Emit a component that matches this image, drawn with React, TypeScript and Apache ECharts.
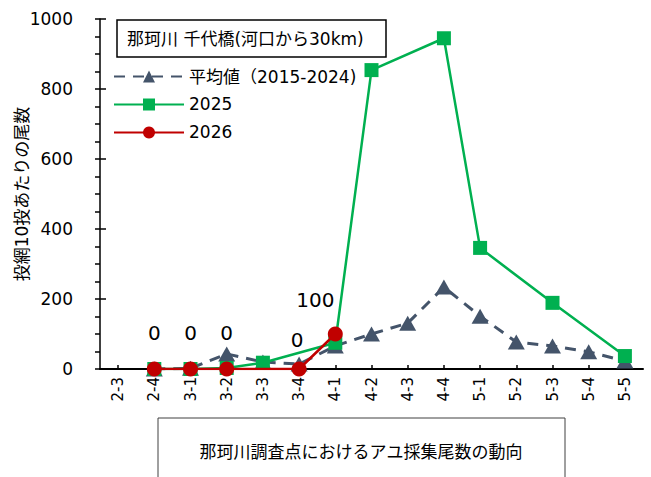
import React, { useEffect, useRef } from "react";
import * as echarts from "echarts";

const categories = ["2-3", "2-4", "3-1", "3-2", "3-3", "3-4", "4-1", "4-2", "4-3", "4-4", "5-1", "5-2", "5-3", "5-4", "5-5"];
const avgValues = [null, 0, 2, 43, 20, 14, 66, 100, 131, 234, 151, 77, 66, 49, 23];
const y2025 = [null, 0, 0, 3, 18, null, 75, 854, null, 945, 346, null, 189, null, 37];
const y2026 = [null, 0, 0, 0, null, 0, 100, null, null, null, null, null, null, null, null];
const labelOffsets2026: Record<number, [number, number]> = {
  1: [0, -14],
  2: [0, -14],
  3: [0, -14],
  5: [-2, -7],
  6: [-20, -12],
};

const seriesNames = ["平均値（2015-2024)", "2025", "2026"];
const titleText = "那珂川 千代橋(河口から30km)";
const yName = "投網10投あたりの尾数";
const captionText = "那珂川調査点におけるアユ採集尾数の動向";

const FONT = "'DejaVu Sans', 'Noto Sans CJK JP', sans-serif";

export default function App() {
  const ref = useRef<HTMLDivElement>(null);
  useEffect(() => {
    if (!ref.current) return;
    const chart = echarts.init(ref.current, undefined, { renderer: "svg" });
    const redData = y2026.map((v, i) => {
      const off = labelOffsets2026[i];
      if (v === null) return null;
      if (off) {
        return {
          value: v,
          label: {
            show: true,
            position: "top",
            offset: off,
            formatter: String(v),
            fontSize: 20,
            color: "#000",
            fontFamily: FONT,
          },
        };
      }
      return v;
    });
    chart.setOption({
      animation: false,
      backgroundColor: "#fff",
      textStyle: { fontFamily: FONT },
      grid: { left: 100, right: 8, top: 19, bottom: 108, containLabel: false, outerBoundsMode: "none" },
      legend: {
        orient: "vertical",
        left: 108,
        top: 63,
        itemWidth: 70,
        itemHeight: 15,
        itemGap: 11,
        textStyle: { fontSize: 17, color: "#000", fontFamily: FONT },
        data: seriesNames,
      },
      xAxis: {
        type: "category",
        data: categories,
        boundaryGap: true,
        axisLine: { lineStyle: { color: "#000", width: 2 } },
        axisTick: { show: true, inside: true, alignWithLabel: true, length: 4, lineStyle: { color: "#000", width: 1.5 } },
        axisLabel: { rotate: 90, fontSize: 15, color: "#000", margin: 8, interval: 0, fontFamily: FONT },
      },
      yAxis: [
        {
          type: "value",
          min: 0,
          max: 1000,
          interval: 200,
          name: yName,
          nameLocation: "middle",
          nameGap: 70,
          nameMoveOverlap: false,
          nameRotate: 90,
          nameTextStyle: { fontSize: 17, color: "#000", fontFamily: FONT },
          axisLine: { show: true, lineStyle: { color: "#000", width: 1.5 } },
          axisTick: { show: true, length: 5, lineStyle: { color: "#000", width: 1.5 } },
          minorTick: { show: true, splitNumber: 4, length: 5, lineStyle: { color: "#000", width: 1.5 } },
          splitLine: { show: false },
          axisLabel: { fontSize: 17, color: "#000", margin: 27, fontFamily: FONT, formatter: (v: number) => String(v) },
        },
        {
          type: "value",
          min: 0,
          max: 1000,
          interval: 200,
          position: "left",
          axisLine: { show: false },
          axisTick: { show: true, inside: true, length: 6, lineStyle: { color: "#000", width: 1.5 } },
          splitLine: { show: false },
          axisLabel: { show: false },
        },
      ],
      series: [
        {
          name: seriesNames[0],
          type: "line",
          data: avgValues,
          connectNulls: true,
          symbol: "triangle",
          symbolSize: [17, 15],
          itemStyle: { color: "#44546A" },
          lineStyle: { color: "#44546A", width: 3, type: [11, 8] },
          z: 2,
        },
        {
          name: seriesNames[1],
          type: "line",
          data: y2025,
          connectNulls: true,
          symbol: "rect",
          symbolSize: 14,
          itemStyle: { color: "#00B050" },
          lineStyle: { color: "#00B050", width: 2.5 },
          z: 3,
        },
        {
          name: seriesNames[2],
          type: "line",
          data: redData,
          connectNulls: true,
          symbol: "circle",
          symbolSize: 15,
          itemStyle: { color: "#C00000" },
          lineStyle: { color: "#C00000", width: 2.5 },
          z: 4,
        },
      ],
      graphic: [
        {
          type: "rect",
          shape: { x: 117, y: 20, width: 269, height: 37 },
          style: { fill: "#fff", stroke: "#000", lineWidth: 1.5 },
          z: 10,
        },
        {
          type: "text",
          x: 127,
          y: 38.5,
          style: { text: titleText, fontSize: 17, fill: "#000", fontFamily: FONT, verticalAlign: "middle", align: "left" },
          z: 11,
        },
        {
          type: "rect",
          shape: { x: 158, y: 418, width: 407, height: 80 },
          style: { fill: "#fff", stroke: "#404040", lineWidth: 1 },
          z: 10,
        },
        {
          type: "text",
          x: 361,
          y: 452,
          style: { text: captionText, fontSize: 17, fill: "#000", fontFamily: FONT, verticalAlign: "middle", align: "center" },
          z: 11,
        },
      ],
    });
    return () => chart.dispose();
  }, []);
  return <div ref={ref} style={{ width: 651, height: 477, position: "absolute", left: 0, top: 0 }} />;
}
